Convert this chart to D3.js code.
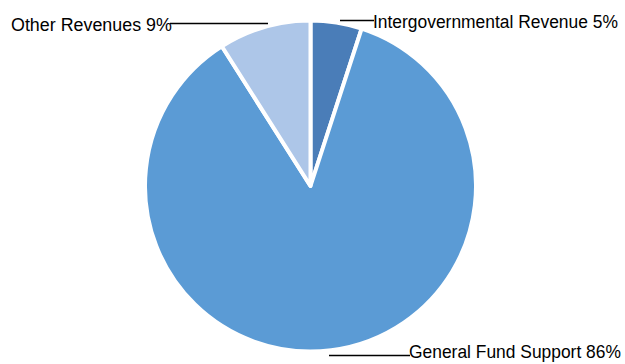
<!DOCTYPE html>
<html>
<head>
<meta charset="utf-8">
<script src="https://cdn.jsdelivr.net/npm/d3@7"></script>
<style>
html,body{margin:0;padding:0;background:#fff;}
svg{display:block;}
text{font-family:"Liberation Sans",Arial,sans-serif;fill:#000;}
</style>
</head>
<body>
<svg id="chart" width="625" height="364"></svg>
<script>
const categories = ["Intergovernmental Revenue", "General Fund Support", "Other Revenues"];
const values = [5, 86, 9];
const labels = ["Intergovernmental Revenue 5%", "General Fund Support 86%", "Other Revenues 9%"];
const colors = ["#4a7db8", "#5b9bd5", "#adc6e8"];

const svg = d3.select("#chart");
const cx = 310.5, cy = 186, r = 165.5;
const g = svg.append("g").attr("transform", `translate(${cx},${cy})`);

const pie = d3.pie().sort(null).value(d => d.v);
const arcs = pie(categories.map((c, i) => ({c, v: values[i], i})));
const arc = d3.arc().innerRadius(0).outerRadius(r);

g.selectAll("path").data(arcs).join("path")
  .attr("d", arc)
  .attr("fill", d => colors[d.data.i])
  .attr("stroke", "#fff")
  .attr("stroke-width", 4)
  .attr("stroke-linejoin", "round");

// label placement (leader line + text), indexed like categories
const labelSpec = [
  {x1: 340, x2: 374, ly: 20.5, tx: 373, ty: 28, w: 245},
  {x1: 329, x2: 410, ly: 355.5, tx: 409, ty: 358, w: 212},
  {x1: 268, x2: 170, ly: 23.5, tx: 11, ty: 31, w: 161}
];

const lg = svg.append("g");
labelSpec.forEach((s, i) => {
  lg.append("line")
    .attr("x1", s.x1).attr("x2", s.x2)
    .attr("y1", s.ly).attr("y2", s.ly)
    .attr("stroke", "#000").attr("stroke-width", 1.5);
  const tg = lg.append("g").attr("transform", `translate(${s.tx},${s.ty})`);
  const t = tg.append("text")
    .attr("x", 0).attr("y", 0)
    .attr("font-size", 19)
    .text(labels[i]);
  const nat = t.node().getComputedTextLength();
  t.attr("transform", `scale(${s.w / nat},1)`);
});
</script>
</body>
</html>
